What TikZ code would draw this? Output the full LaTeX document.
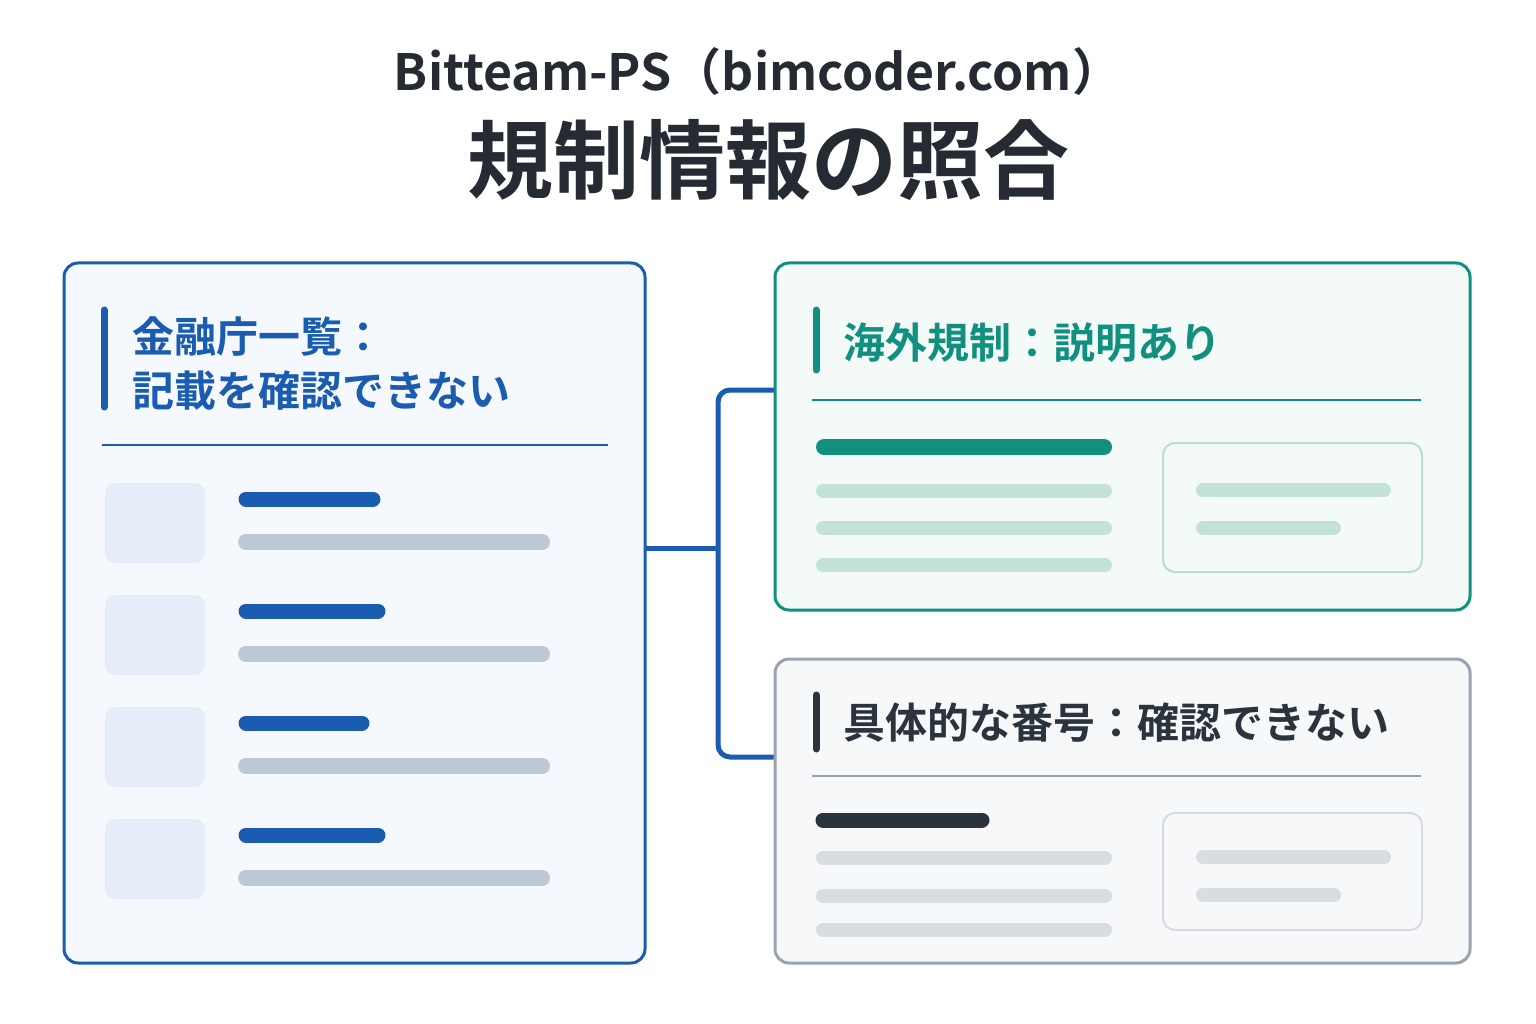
\documentclass[tikz,border=0pt]{standalone}
\usepackage{fontspec}
\setmainfont{Noto Sans CJK JP}
\newfontfamily\jpb{Noto Sans CJK JP}[BoldFont={* Bold}]
\definecolor{blu}{HTML}{1A5CB0}
\definecolor{teal}{HTML}{12907F}
\definecolor{gry}{HTML}{9AA3AE}
\definecolor{dark}{HTML}{2B333D}
\definecolor{ttl}{HTML}{262B33}
\definecolor{lbfill}{HTML}{F5F9FD}
\definecolor{sqfill}{HTML}{E4EDF8}
\definecolor{tfill}{HTML}{F3FAF8}
\definecolor{gfill}{HTML}{F7F8FA}
\begin{document}
\begin{tikzpicture}[x=1pt,y=-1pt,
  bar/.style={line cap=round,line width=#1},
  ttxt/.style={anchor=west,font=\jpb\bfseries\fontsize{42}{50}\selectfont,inner sep=0}]
\useasboundingbox (0,0) rectangle (1536,1024);
\fill[white] (0,0) rectangle (1536,1024);
\node[font=\jpb\bfseries\fontsize{50}{60}\selectfont,text=ttl] (t1) at (758,72) {Bitteam-PS（bimcoder.com）};
\node[font=\jpb\bfseries\fontsize{86}{96}\selectfont,text=ttl] (t2) at (768,160) {規制情報の照合};
% left box
\draw[blu,line width=3,fill=lbfill,rounded corners=14] (64,263) rectangle (645,963);
\draw[blu,bar=7] (104,310) -- (104,407);
\node[ttxt,text=blu] (l1) at (132,336) {金融庁一覧：};
\node[ttxt,text=blu] (l2) at (132,391) {記載を確認できない};
\draw[blu,line width=1.5] (102,445) -- (608,445);
\foreach \y/\w in {483/380,595/385,707/369,819/385}{
  \fill[sqfill,rounded corners=10] (105,\y) rectangle (205,\y+80);
  \draw[blu,bar=15] (246,\y+16) -- (\w-7,\y+16);
  \draw[bar=16,color={rgb,255:red,190;green,199;blue,212}] (246,\y+59) -- (542,\y+59);
}
% connector
\coordinate (c0) at (645,548);
\draw[blu,line width=5,rounded corners=12] (c0) -- (718,548);
\draw[blu,line width=5,rounded corners=12] (775,390) -- (718,390) -- (718,757) -- (775,757);
% top right
\draw[teal,line width=3,fill=tfill,rounded corners=14] (775,263) rectangle (1470,610);
\draw[teal,bar=7] (816,310) -- (816,370);
\node[ttxt,text=teal] (r1) at (843,343) {海外規制：説明あり};
\draw[teal,line width=1.5] (812,400) -- (1421,400);
\draw[teal,bar=16] (824,447) -- (1104,447);
\foreach \y in {491,528,565}{\draw[color={rgb,255:red,197;green,226;blue,218},bar=14] (823,\y) -- (1105,\y);}
\draw[color={rgb,255:red,185;green,220;blue,211},line width=2,fill=tfill,rounded corners=12] (1163,443) rectangle (1422,572);
\draw[color={rgb,255:red,197;green,226;blue,218},bar=14] (1203,490) -- (1384,490);
\draw[color={rgb,255:red,197;green,226;blue,218},bar=14] (1203,528) -- (1334,528);
% bottom right
\draw[gry,line width=3,fill=gfill,rounded corners=14] (775,659) rectangle (1470,963);
\draw[dark,bar=7] (816,695) -- (816,749);
\node[ttxt,text=dark] (r2) at (843,723) {具体的な番号：確認できない};
\draw[gry,line width=1.5] (812,776) -- (1421,776);
\draw[dark,bar=15] (823,820) -- (982,820);
\foreach \y in {858,896,930}{\draw[color={rgb,255:red,217;green,220;blue,225},bar=14] (823,\y) -- (1105,\y);}
\draw[color={rgb,255:red,215;green,218;blue,223},line width=2,fill=gfill,rounded corners=12] (1163,813) rectangle (1422,930);
\draw[color={rgb,255:red,217;green,220;blue,225},bar=14] (1203,857) -- (1384,857);
\draw[color={rgb,255:red,217;green,220;blue,225},bar=14] (1203,895) -- (1334,895);
\end{tikzpicture}
\end{document}
